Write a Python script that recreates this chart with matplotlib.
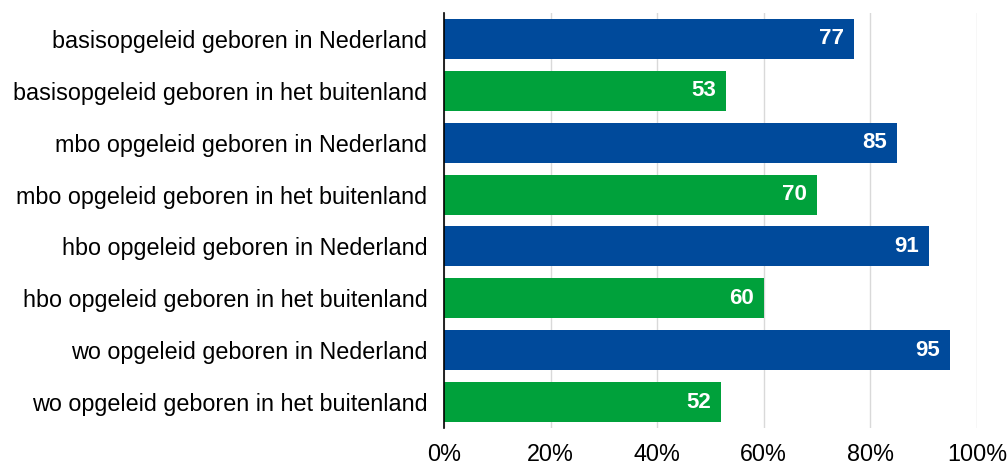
import matplotlib.pyplot as plt
from matplotlib.ticker import PercentFormatter

categories = [
    "basisopgeleid geboren in Nederland",
    "basisopgeleid geboren in het buitenland",
    "mbo opgeleid geboren in Nederland",
    "mbo opgeleid geboren in het buitenland",
    "hbo opgeleid geboren in Nederland",
    "hbo opgeleid geboren in het buitenland",
    "wo opgeleid geboren in Nederland",
    "wo opgeleid geboren in het buitenland",
]
values = [77, 53, 85, 70, 91, 60, 95, 52]
xticks = [0, 20, 40, 60, 80, 100]

blue = "#004A9B"
green = "#00A13B"
colors = [blue if "Nederland" in c else green for c in categories]

plt.rcParams['font.family'] = ['Liberation Sans', 'DejaVu Sans']

fig = plt.figure(figsize=(10.08, 4.68), dpi=100)
ax = fig.add_axes([0.4405, 0.0855, 0.5287, 0.8867])

y = list(range(len(categories)))
bars = ax.barh(y, values, height=0.77, color=colors, zorder=3)
ax.set_ylim(len(categories) - 0.5, -0.5)
ax.set_xlim(0, 100)

for b, v in zip(bars, values):
    ax.text(v - 1.9, b.get_y() + b.get_height() / 2, str(v),
            ha="right", va="center", color="white", fontsize=16,
            fontweight="bold", zorder=4)

ax.set_yticks(y)
ax.set_yticklabels(categories, fontsize=16.8)
ax.set_xticks(xticks)
ax.xaxis.set_major_formatter(PercentFormatter(decimals=0))
ax.tick_params(axis="x", labelsize=16.8, length=0, pad=11)
ax.tick_params(axis="y", length=0, pad=12)

ax.grid(axis="x", color="#D9D9D9", linewidth=1, zorder=0)
for side in ["top", "right", "bottom"]:
    ax.spines[side].set_visible(False)
ax.spines["left"].set_color("black")
ax.spines["left"].set_linewidth(1.2)
ax.spines["left"].set_zorder(5)

fig.savefig("out.png", dpi=100)
